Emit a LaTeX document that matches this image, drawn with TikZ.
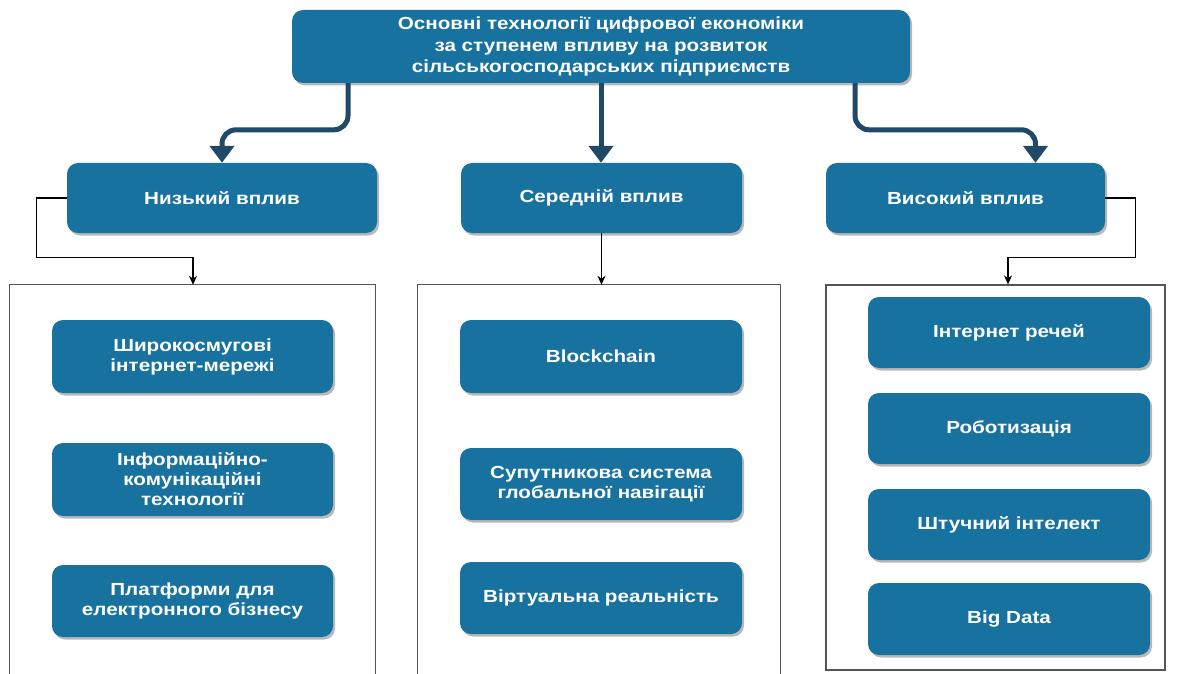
\documentclass[tikz,border=0pt]{standalone}
\usepackage{fontspec}
\setmainfont{Liberation Sans}[FakeStretch=1.18]
\usetikzlibrary{arrows.meta,shadows,calc}
\definecolor{boxblue}{HTML}{17729F}
\definecolor{arrowblue}{HTML}{1F4966}
\definecolor{framegray}{HTML}{555555}
\tikzset{
  bluebox/.style={rectangle, rounded corners=11pt, fill=boxblue, text=white,
    font=\bfseries\fontsize{17.5}{20}\selectfont, align=center, inner sep=2pt,
    drop shadow={shadow xshift=2pt, shadow yshift=-2.5pt, fill=black, opacity=0.28}},
  bigarrow/.style={draw=arrowblue, line width=5pt, rounded corners=14pt,
    -{Triangle[width=24pt,length=17pt]}},
  conn/.style={draw=black, line width=1.1pt, -{Stealth[width=8pt,length=9pt]}},
  frame/.style={draw=framegray, line width=1.2pt},
  holder/.style={rectangle, inner sep=0pt}
}
\begin{document}
\begin{tikzpicture}[x=1pt,y=-1pt]
\useasboundingbox (0,0) rectangle (1179,674);
\fill[white] (0,0) rectangle (1179,674);

% top node
\node[bluebox, minimum width=618pt, minimum height=73pt, font=\bfseries\fontsize{17.5}{21.5}\selectfont] (top) at (601,46.5)
  {Основні технології цифрової економіки\\за ступенем впливу на розвиток\\сільськогосподарських підприємств};

% level 2
\node[bluebox, minimum width=310pt, minimum height=70pt] (L1) at (222,198) {Низький вплив};
\node[bluebox, minimum width=281pt, minimum height=70pt] (M1) at (601.5,198) {Середній вплив};
\node[bluebox, minimum width=279pt, minimum height=70pt] (R1) at (965.5,198) {Високий вплив};

% containers
\node[holder, minimum width=365pt, minimum height=389pt] (cL) at (192.5,479.5) {};
\node[holder, minimum width=362pt, minimum height=389pt] (cM) at (599,479.5) {};
\node[holder, frame, minimum width=339pt, minimum height=385pt] (cR) at (995.5,477.5) {};
\draw[frame] (cL.south west) -- (cL.north west) -- (cL.north east) -- (cL.south east);
\draw[frame] (cM.south west) -- (cM.north west) -- (cM.north east) -- (cM.south east);

% inner boxes left
\node[bluebox, minimum width=281pt, minimum height=73pt] (ls1) at (192.5,356.5) {Широкосмугові\\інтернет-мережі};
\node[bluebox, minimum width=281pt, minimum height=73pt] (ls2) at (192.5,479.5) {Інформаційно-\\комунікаційні\\технології};
\node[bluebox, minimum width=281pt, minimum height=72pt] (ls3) at (192.5,601) {Платформи для\\електронного бізнесу};

% inner boxes middle
\node[bluebox, minimum width=282pt, minimum height=73pt] (ms1) at (601,356.5) {Blockchain};
\node[bluebox, minimum width=282pt, minimum height=72pt] (ms2) at (601,484) {Супутникова система\\глобальної навігації};
\node[bluebox, minimum width=282pt, minimum height=72pt] (ms3) at (601,598) {Віртуальна реальність};

% inner boxes right
\node[bluebox, minimum width=282pt, minimum height=71pt] (rs1) at (1009,332.5) {Інтернет речей};
\node[bluebox, minimum width=282pt, minimum height=71pt] (rs2) at (1009,428.5) {Роботизація};
\node[bluebox, minimum width=282pt, minimum height=71pt] (rs3) at (1009,524.5) {Штучний інтелект};
\node[bluebox, minimum width=282pt, minimum height=72pt] (rs4) at (1009,619) {Big Data};

% big arrows
\draw[bigarrow] ([xshift=-253pt]top.south) |- ([yshift=33pt]L1.north) -- (L1.north);
\draw[bigarrow] (top.south) -- (top.south |- M1.north);
\draw[bigarrow] ([xshift=254pt]top.south) |- ([xshift=70pt,yshift=33pt]R1.north) -- ([xshift=70pt]R1.north);

% thin connectors
\draw[conn] (L1.west) -- ++(-30,0) |- ([xshift=0.5pt,yshift=27pt]cL.north) -- ([xshift=0.5pt]cL.north);
\draw[conn] (M1.south) -- (M1.south |- cM.north);
\draw[conn] (R1.east) -- ++(30,0) |- ([xshift=12.5pt,yshift=27pt]cR.north) -- ([xshift=12.5pt]cR.north);
\end{tikzpicture}
\end{document}
